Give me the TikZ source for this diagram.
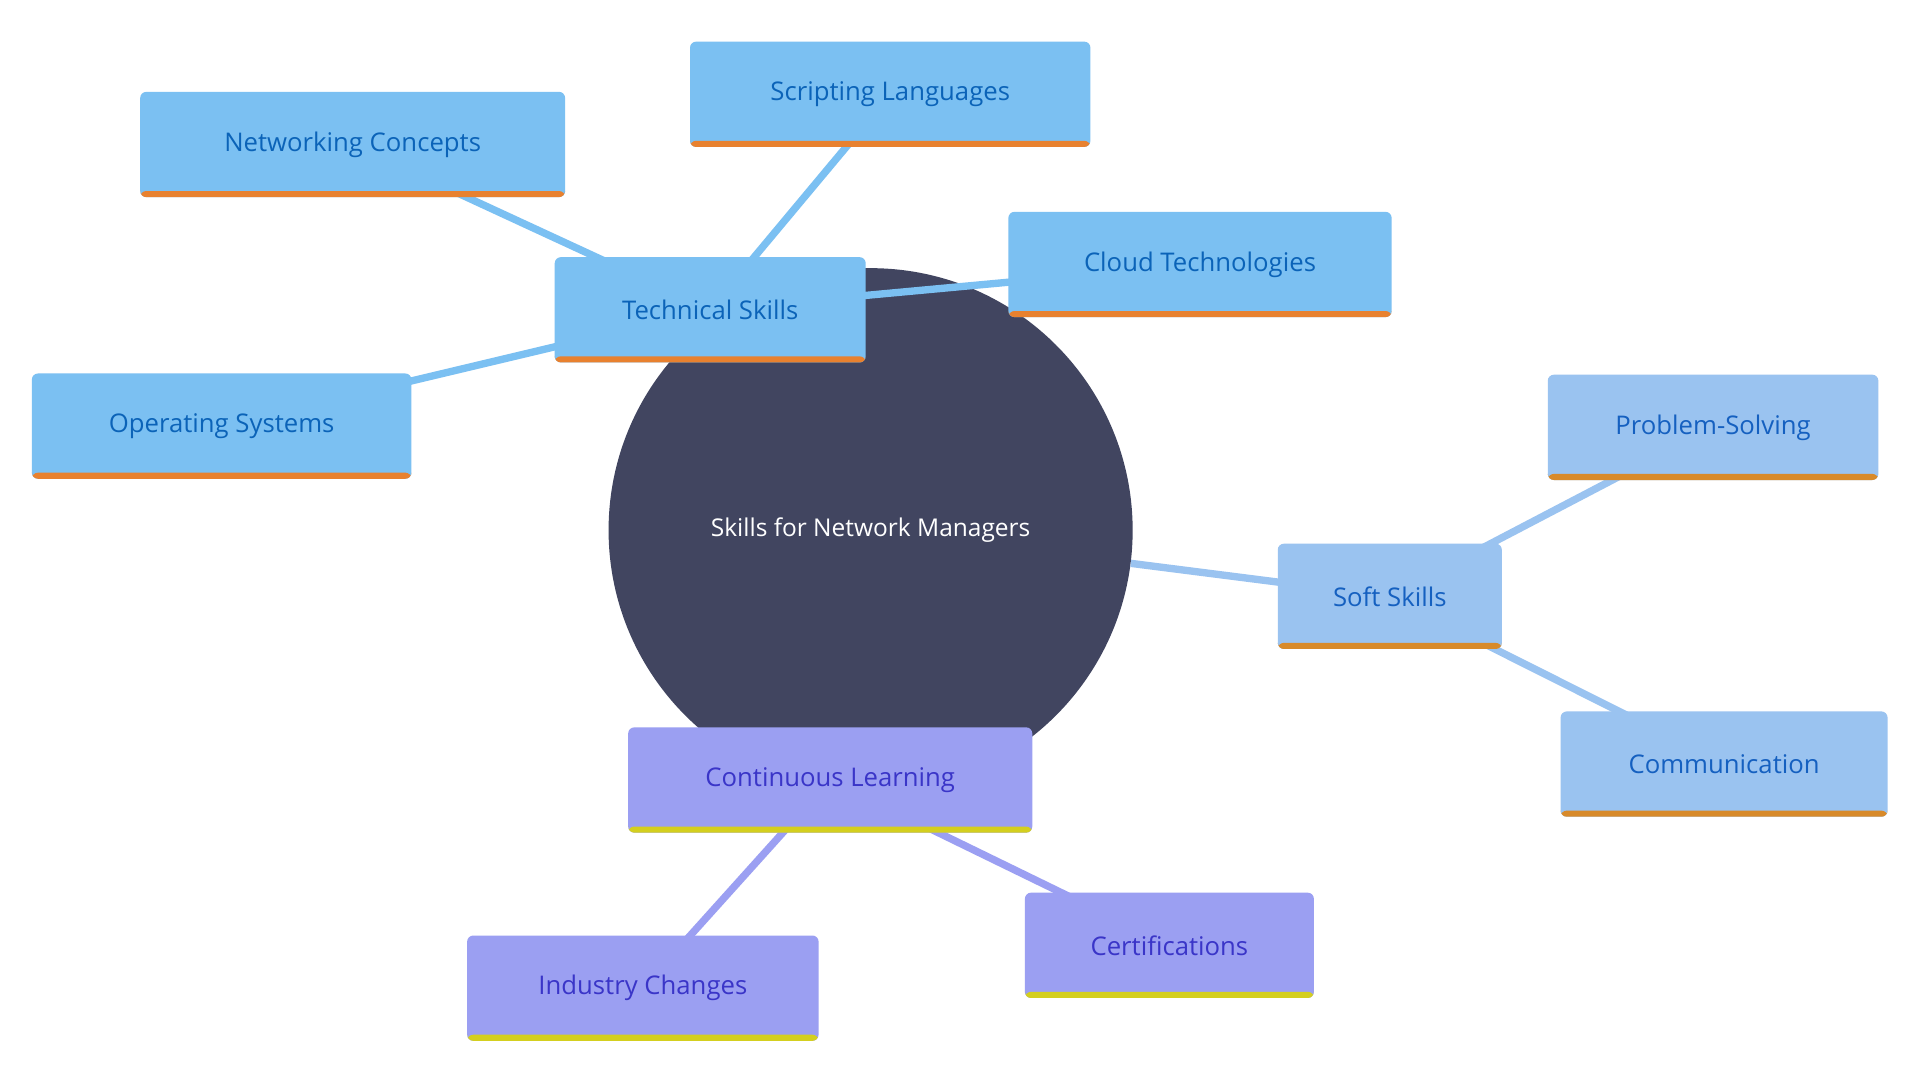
\documentclass[tikz,border=0pt]{standalone}
\usepackage{fontspec}
\setmainfont{Open Sans}
\definecolor{centerfill}{HTML}{414560}
\definecolor{techfill}{HTML}{7BC0F2}
\definecolor{techtext}{HTML}{0B63B8}
\definecolor{techbar}{HTML}{E8812F}
\definecolor{softfill}{HTML}{9AC3F0}
\definecolor{softtext}{HTML}{1560C0}
\definecolor{softbar}{HTML}{D88A2A}
\definecolor{learnfill}{HTML}{9B9FF2}
\definecolor{learntext}{HTML}{3A35C8}
\definecolor{learnbar}{HTML}{D4CF1F}
\tikzset{
  box/.style n args={3}{fill=#1, text=#2, rounded corners=5pt, minimum height=86pt,
    inner xsep=22pt, font=\fontsize{21}{25}\selectfont,
    path picture={\fill[#3] ([yshift=5pt]path picture bounding box.south west) rectangle (path picture bounding box.south east);}},
  techbox/.style={box={techfill}{techtext}{techbar}},
  softbox/.style={box={softfill}{softtext}{softbar}},
  learnbox/.style={box={learnfill}{learntext}{learnbar}},
  link/.style={line width=6pt}
}
\begin{document}
\begin{tikzpicture}[x=1pt,y=-1pt]
    \useasboundingbox[fill=white] (0,0) rectangle (1568,880);

    \node[circle, fill=centerfill, minimum size=428pt, text=white,
          font=\fontsize{20}{24}\selectfont] (root) at (711,433) {Skills for Network Managers};

    % tech branch
    \coordinate (techc) at (580,253);
    \draw[link, techfill] (root) -- (techc);
    \draw[link, techfill] (techc) -- (727,77) coordinate (scriptc);
    \draw[link, techfill] (techc) -- (288,118) coordinate (netc);
    \draw[link, techfill] (techc) -- (980,216) coordinate (cloudc);
    \draw[link, techfill] (techc) -- (181,348) coordinate (osc);

    % soft branch
    \coordinate (softc) at (1135,487);
    \draw[link, softfill] (root) -- (softc);
    \draw[link, softfill] (softc) -- (1399,349) coordinate (probc);
    \draw[link, softfill] (softc) -- (1408,624) coordinate (commc);

    % learning branch
    \coordinate (learnc) at (678,637);
    \draw[link, learnfill] (root) -- (learnc);
    \draw[link, learnfill] (learnc) -- (525,807) coordinate (indc);
    \draw[link, learnfill] (learnc) -- (955,772) coordinate (certc);

    \node[techbox, minimum width=254pt] (tech) at (techc) {Technical Skills};
    \node[techbox, minimum width=327pt] (script) at (scriptc) {Scripting Languages};
    \node[techbox, minimum width=347pt] (net) at (netc) {Networking Concepts};
    \node[techbox, minimum width=313pt] (cloud) at (cloudc) {Cloud Technologies};
    \node[techbox, minimum width=310pt] (os) at (osc) {Operating Systems};

    \node[softbox, minimum width=183pt] (soft) at (softc) {Soft Skills};
    \node[softbox, minimum width=270pt] (prob) at (probc) {Problem-Solving};
    \node[softbox, minimum width=267pt] (comm) at (commc) {Communication};

    \node[learnbox, minimum width=330pt] (learn) at (learnc) {Continuous Learning};
    \node[learnbox, minimum width=287pt] (ind) at (indc) {Industry Changes};
    \node[learnbox, minimum width=236pt] (cert) at (certc) {Certifications};
\end{tikzpicture}
\end{document}
